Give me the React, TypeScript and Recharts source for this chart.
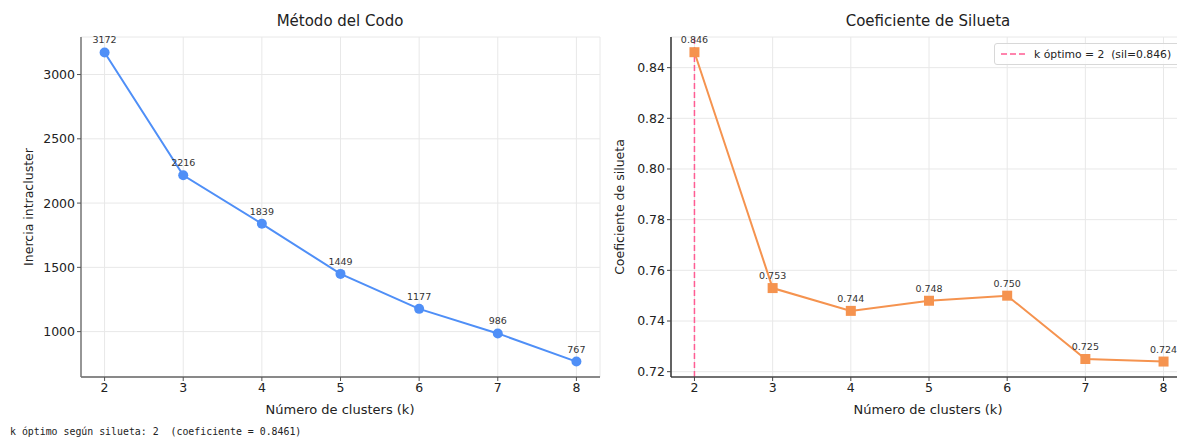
import React from "react";
import {
  LineChart,
  Line,
  XAxis,
  YAxis,
  CartesianGrid,
  ReferenceLine,
  LabelList,
} from "recharts";

// k evaluated, inertia (elbow) and silhouette per k
const kValues = [2, 3, 4, 5, 6, 7, 8];
const inertia = [3172, 2216, 1839, 1449, 1177, 986, 767];
const silhouette = [0.8461, 0.753, 0.744, 0.748, 0.75, 0.725, 0.724];
const inertiaTicks = [1000, 1500, 2000, 2500, 3000];
const silTicks = [0.72, 0.74, 0.76, 0.78, 0.8, 0.82, 0.84];
const bestK = 2;
const bestSil = 0.8461;

const BLUE = "#4f8ff7";
const ORANGE = "#f5934f";
const PINK = "#ff5c93";
const FONT = "'DejaVu Sans', sans-serif";

const elbowData = kValues.map((k, i) => ({ k, inertia: inertia[i] }));
const silData = kValues.map((k, i) => ({ k, sil: silhouette[i] }));

function SquareDot(props: any) {
  const { cx, cy } = props;
  if (cx == null || cy == null) return null;
  return <rect x={cx - 5} y={cy - 5} width={10} height={10} fill={ORANGE} />;
}

const tickStyle = { fill: "#222", fontSize: 12.5, fontFamily: FONT };
const valueStyle = { fill: "#333", fontSize: 9.5, fontFamily: FONT };

function Title({ x, text }: { x: number; text: string }) {
  return (
    <div
      style={{
        position: "absolute",
        left: x - 150,
        width: 300,
        top: 12,
        textAlign: "center",
        fontSize: 15,
        color: "#222",
        fontFamily: FONT,
      }}
    >
      {text}
    </div>
  );
}

function XTitle({ x }: { x: number }) {
  return (
    <div
      style={{
        position: "absolute",
        left: x - 150,
        width: 300,
        top: 402,
        textAlign: "center",
        fontSize: 13,
        color: "#222",
        fontFamily: FONT,
      }}
    >
      Número de clusters (k)
    </div>
  );
}

function YTitle({ x, y, text }: { x: number; y: number; text: string }) {
  return (
    <div
      style={{
        position: "absolute",
        left: x - 100,
        top: y - 8,
        width: 200,
        height: 16,
        lineHeight: "16px",
        textAlign: "center",
        fontSize: 12.5,
        color: "#222",
        fontFamily: FONT,
        transform: "rotate(-90deg)",
      }}
    >
      {text}
    </div>
  );
}

export default function App() {
  return (
    <div
      style={{
        position: "absolute",
        left: 0,
        top: 0,
        width: 1177,
        height: 439,
        overflow: "hidden",
        background: "#fff",
      }}
    >
      <div style={{ position: "absolute", left: 0, top: 0 }}>
        <LineChart
          width={620}
          height={439}
          data={elbowData}
          margin={{ top: 37, right: 20, bottom: 0, left: 0 }}
        >
          <CartesianGrid stroke="#e8e8e8" strokeWidth={1} />
          <XAxis
            dataKey="k"
            type="number"
            domain={[1.7, 8.3]}
            ticks={kValues}
            allowDataOverflow
            height={62}
            tick={tickStyle}
            tickSize={4}
            tickLine={{ stroke: "#555" }}
            axisLine={{ stroke: "#666", strokeWidth: 1.5 }}
          />
          <YAxis
            type="number"
            domain={[647, 3292]}
            ticks={inertiaTicks}
            allowDataOverflow
            width={81}
            tick={tickStyle}
            tickSize={4}
            tickLine={{ stroke: "#555" }}
            axisLine={{ stroke: "#777", strokeWidth: 1.5 }}
          />
          <Line
            type="linear"
            dataKey="inertia"
            stroke={BLUE}
            strokeWidth={2}
            dot={{ r: 5, fill: BLUE, stroke: BLUE, strokeWidth: 0 }}
            activeDot={false}
            isAnimationActive={false}
          >
            <LabelList dataKey="inertia" position="top" offset={9} style={valueStyle} />
          </Line>
        </LineChart>
      </div>

      <div style={{ position: "absolute", left: 580, top: 0 }}>
        <LineChart
          width={620}
          height={439}
          data={silData}
          margin={{ top: 37, right: 13, bottom: 0, left: 0 }}
        >
          <CartesianGrid stroke="#e8e8e8" strokeWidth={1} />
          <XAxis
            dataKey="k"
            type="number"
            domain={[1.7, 8.3]}
            ticks={kValues}
            allowDataOverflow
            height={62}
            tick={tickStyle}
            tickSize={4}
            tickLine={{ stroke: "#444" }}
            axisLine={{ stroke: "#444", strokeWidth: 1.5 }}
          />
          <YAxis
            type="number"
            domain={[0.7179, 0.8521]}
            ticks={silTicks}
            allowDataOverflow
            width={91}
            tick={tickStyle}
            tickSize={4}
            tickFormatter={(v: number) => v.toFixed(2)}
            tickLine={{ stroke: "#444" }}
            axisLine={{ stroke: "#333", strokeWidth: 1.5 }}
          />
          <Line
            type="linear"
            dataKey="sil"
            stroke={ORANGE}
            strokeWidth={2}
            dot={<SquareDot />}
            activeDot={false}
            isAnimationActive={false}
          >
            <LabelList
              dataKey="sil"
              position="top"
              offset={9}
              style={valueStyle}
              formatter={(v: any) => Number(v).toFixed(3)}
            />
          </Line>
          <ReferenceLine
            x={bestK}
            stroke={PINK}
            strokeWidth={1.5}
            strokeDasharray="6 3"
          />
        </LineChart>
      </div>

      <Title x={340} text="Método del Codo" />
      <Title x={928} text="Coeficiente de Silueta" />
      <XTitle x={340} />
      <XTitle x={928} />
      <YTitle x={29} y={207} text="Inercia intracluster" />
      <YTitle x={620} y={207} text="Coeficiente de silueta" />

      <div
        style={{
          position: "absolute",
          left: 994,
          top: 43,
          width: 200,
          height: 20,
          border: "1px solid #d8d8d8",
          borderRadius: 3,
          background: "rgba(255,255,255,0.85)",
          display: "flex",
          alignItems: "center",
          fontFamily: FONT,
          fontSize: 10.8,
          color: "#222",
          whiteSpace: "pre",
        }}
      >
        <svg width={35} height={10} style={{ marginLeft: 4 }}>
          <line x1={2} y1={5} x2={28} y2={5} stroke={PINK} strokeWidth={1.5} strokeDasharray="6 3" />
        </svg>
        <span>{`k óptimo = ${bestK}  (sil=${bestSil.toFixed(3)})`}</span>
      </div>

      <div
        style={{
          position: "absolute",
          left: 10,
          top: 426,
          fontFamily: "'DejaVu Sans Mono', monospace",
          fontSize: 9.9,
          color: "#222",
          whiteSpace: "pre",
        }}
      >
        {`k óptimo según silueta: ${bestK}  (coeficiente = ${bestSil.toFixed(4)})`}
      </div>
    </div>
  );
}
